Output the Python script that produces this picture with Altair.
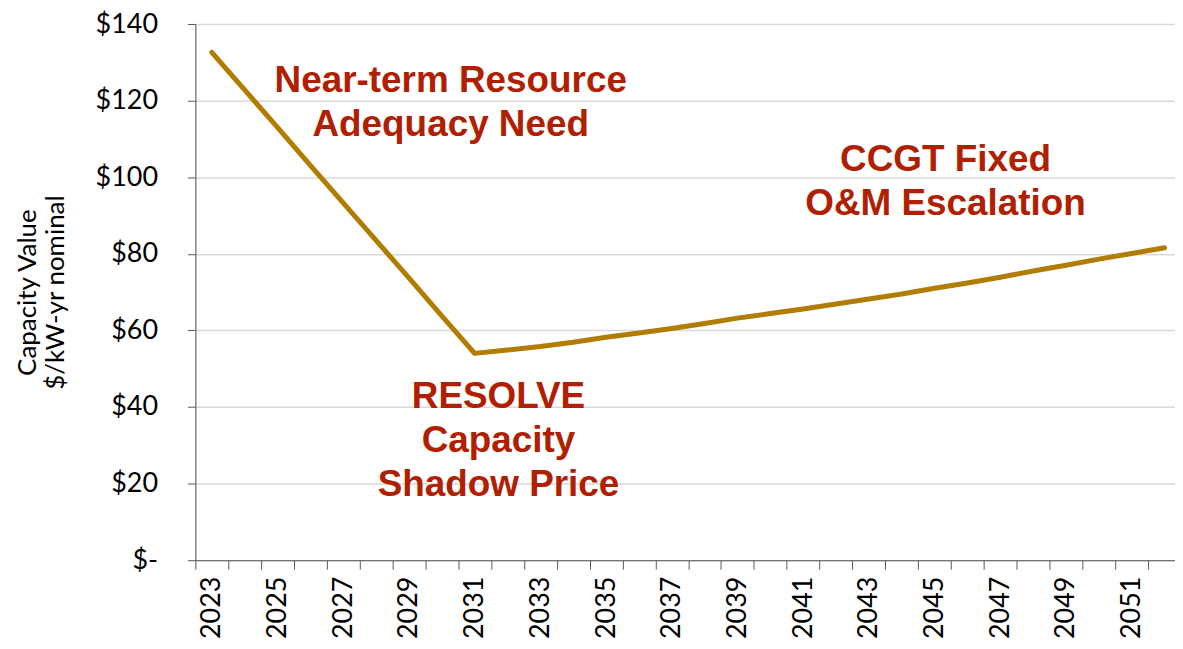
import altair as alt
import pandas as pd

years = [2023, 2024, 2025, 2026, 2027, 2028, 2029, 2030, 2031, 2032,
         2033, 2034, 2035, 2036, 2037, 2038, 2039, 2040, 2041, 2042,
         2043, 2044, 2045, 2046, 2047, 2048, 2049, 2050, 2051, 2052]
capacity_value = [132.6, 122.8, 113.0, 103.1, 93.3, 83.5, 73.7, 63.8, 54.0, 54.9,
                  55.8, 56.9, 58.2, 59.3, 60.5, 61.8, 63.2, 64.4, 65.6, 66.9,
                  68.2, 69.5, 71.0, 72.4, 73.9, 75.5, 77.0, 78.6, 80.1, 81.6]
y_ticks = [0, 20, 40, 60, 80, 100, 120, 140]

ann_labels = ["Near-term Resource\nAdequacy Need",
              "RESOLVE\nCapacity\nShadow Price",
              "CCGT Fixed\nO&M Escalation"]
ann_years = [2030, 2032, 2045]
ann_values = [122.3, 39.7, 101.6]

LINE_COLOR = "#B07D00"
TEXT_COLOR = "#B02000"
AXIS_COLOR = "#595959"

PLOT_W = 983
X_RANGE = 989

df = pd.DataFrame({"year": years, "value": capacity_value})

x_enc = alt.X(
    "year:O",
    scale=alt.Scale(type="band", paddingInner=0, paddingOuter=0, range=[0, X_RANGE]),
    axis=alt.Axis(
        title=None,
        labelAngle=270,
        labelAlign="right",
        labelBaseline="middle",
        labelExpr="datum.value % 2 == 1 ? datum.label : ''",
        labelOverlap=False,
        tickBand="extent",
        tickSize=9,
        labelPadding=7,
        labelFont="Lato",
        labelFontSize=27,
        labelColor="#000000",
        domainColor=AXIS_COLOR,
        tickColor=AXIS_COLOR,
        grid=False,
    ),
)

y_enc = alt.Y(
    "value:Q",
    scale=alt.Scale(domain=[0, 140], nice=False),
    axis=alt.Axis(
        values=y_ticks,
        labelExpr="datum.value == 0 ? '$-' : '$' + datum.value",
        title=["Capacity Value", "$/kW-yr nominal"],
        titleFont="Lato",
        titleFontSize=26,
        titleFontWeight="normal",
        titleColor="#000000",
        titleLineHeight=28,
        titlePadding=27,
        labelFont="Lato",
        labelFontSize=27,
        labelColor="#000000",
        labelPadding=30,
        tickSize=8,
        tickColor=AXIS_COLOR,
        domainColor=AXIS_COLOR,
        grid=True,
        gridColor="#D9D9D9",
        gridWidth=1.5,
    ),
)

line = alt.Chart(df).mark_line(
    color=LINE_COLOR, strokeWidth=5, strokeCap="round", strokeJoin="round"
).encode(x=x_enc, y=y_enc)

dxs = [9, -9, 11]
texts = []
for lab, yr, val, dx in zip(ann_labels, ann_years, ann_values, dxs):
    tdf = pd.DataFrame({"year": [yr], "value": [val], "label": [lab]})
    t = alt.Chart(tdf).mark_text(
        font="Liberation Sans",
        fontWeight="bold",
        fontSize=37,
        color=TEXT_COLOR,
        align="center",
        baseline="alphabetic",
        lineBreak="\n",
        lineHeight=44,
        dx=dx,
    ).encode(x=alt.X("year:O"), y=alt.Y("value:Q"), text="label:N")
    texts.append(t)

chart = alt.layer(line, *texts).properties(
    width=PLOT_W,
    height=538,
    autosize=alt.AutoSizeParams(type="none"),
    padding={"left": 188, "top": 15, "right": 0, "bottom": 80},
).configure_view(stroke=None).configure(background="white")

chart.save("out.html", embed_options={"renderer": "svg", "actions": False})
